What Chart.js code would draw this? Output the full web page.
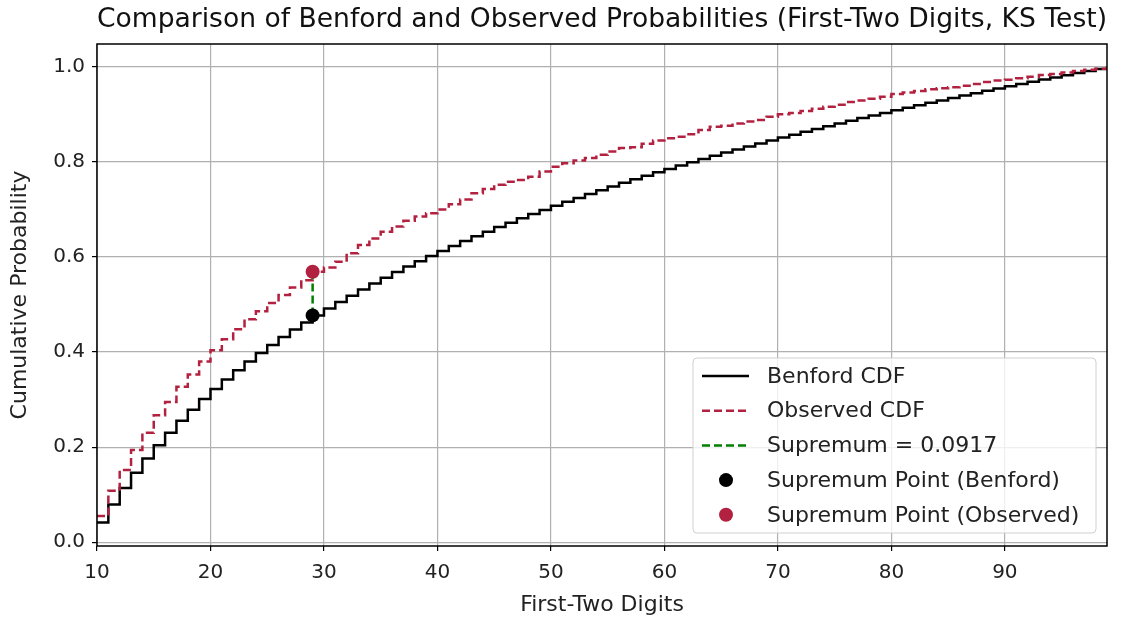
<!DOCTYPE html>
<html>
<head>
<meta charset="utf-8">
<script src="https://cdn.jsdelivr.net/npm/chart.js@4.4.1/dist/chart.umd.min.js"></script>
<style>
  html, body { margin: 0; padding: 0; background: #fff; }
  #wrap { width: 1121px; height: 621px; }
</style>
</head>
<body>
<div id="wrap"><canvas id="ksChart"></canvas></div>
<script>
// first-two digits 10..99
const digits = [10,11,12,13,14,15,16,17,18,19,20,21,22,23,24,25,26,27,28,29,
  30,31,32,33,34,35,36,37,38,39,40,41,42,43,44,45,46,47,48,49,
  50,51,52,53,54,55,56,57,58,59,60,61,62,63,64,65,66,67,68,69,
  70,71,72,73,74,75,76,77,78,79,80,81,82,83,84,85,86,87,88,89,
  90,91,92,93,94,95,96,97,98,99];

const benfordCdf = [0.0414,0.0792,0.1139,0.1461,0.1761,0.2041,0.2304,0.2553,0.2788,0.3010,
  0.3222,0.3424,0.3617,0.3802,0.3979,0.4150,0.4314,0.4472,0.4624,0.4771,
  0.4914,0.5051,0.5185,0.5315,0.5441,0.5563,0.5682,0.5798,0.5911,0.6021,
  0.6128,0.6232,0.6335,0.6435,0.6532,0.6628,0.6721,0.6812,0.6902,0.6990,
  0.7076,0.7160,0.7243,0.7324,0.7404,0.7482,0.7559,0.7634,0.7709,0.7782,
  0.7853,0.7924,0.7993,0.8062,0.8129,0.8195,0.8261,0.8325,0.8388,0.8451,
  0.8513,0.8573,0.8633,0.8692,0.8751,0.8808,0.8865,0.8921,0.8976,0.9031,
  0.9085,0.9138,0.9191,0.9243,0.9294,0.9345,0.9395,0.9445,0.9494,0.9542,
  0.9590,0.9638,0.9685,0.9731,0.9777,0.9823,0.9868,0.9912,0.9956,1.0000];

const observedCdf = [0.055,0.108,0.152,0.194,0.230,0.267,0.295,0.327,0.353,0.380,
  0.404,0.427,0.448,0.469,0.486,0.503,0.520,0.536,0.551,0.5688,
  0.578,0.590,0.608,0.625,0.639,0.653,0.664,0.676,0.685,0.692,
  0.700,0.711,0.721,0.734,0.743,0.752,0.758,0.762,0.769,0.780,
  0.790,0.797,0.803,0.808,0.815,0.822,0.829,0.831,0.838,0.845,
  0.850,0.853,0.858,0.867,0.874,0.876,0.881,0.885,0.888,0.895,
  0.900,0.903,0.907,0.912,0.916,0.920,0.926,0.929,0.933,0.937,
  0.943,0.946,0.949,0.953,0.955,0.957,0.960,0.964,0.968,0.971,
  0.973,0.976,0.979,0.983,0.985,0.988,0.991,0.994,0.996,1.000];

const supDigit = 29;
const supBenford = 0.4771;
const supObserved = 0.5688;
const supValue = '0.0917';

const xTicks = [10,20,30,40,50,60,70,80,90];
const yTicks = [0.0,0.2,0.4,0.6,0.8,1.0];

const RED = '#b2213f';
const FONT = "'DejaVu Sans', sans-serif";

const toPts = (ys) => digits.map((d, i) => ({ x: d, y: ys[i] }));

// matplotlib style frame round the plot area
const framePlugin = {
  id: 'frame',
  afterDatasetsDraw(chart) {
    const { ctx, chartArea: a } = chart;
    ctx.save();
    ctx.strokeStyle = '#000';
    ctx.lineWidth = 1.5;
    ctx.strokeRect(a.left, a.top, a.right - a.left, a.bottom - a.top);
    ctx.restore();
  }
};

// legend in the lower right corner, inside the axes
const innerLegend = {
  id: 'innerLegend',
  afterDraw(chart) {
    const { ctx } = chart;
    const x0 = 693, y0 = 358, w = 403, h = 175, rowH = 34.7;
    ctx.save();
    ctx.beginPath();
    ctx.roundRect(x0, y0, w, h, 4);
    ctx.fillStyle = 'rgba(255,255,255,0.8)';
    ctx.fill();
    ctx.strokeStyle = '#d0d0d0';
    ctx.lineWidth = 1;
    ctx.stroke();
    ctx.font = '22px ' + FONT;
    ctx.textBaseline = 'middle';
    chart.data.datasets.forEach((ds, i) => {
      const cy = y0 + 18 + i * rowH;
      if (ds.showLine === false) {
        ctx.beginPath();
        ctx.arc(726, cy, 7, 0, Math.PI * 2);
        ctx.fillStyle = ds.backgroundColor;
        ctx.fill();
      } else {
        ctx.beginPath();
        ctx.setLineDash(ds.borderDash || []);
        ctx.strokeStyle = ds.borderColor;
        ctx.lineWidth = ds.borderWidth;
        ctx.moveTo(702, cy);
        ctx.lineTo(749, cy);
        ctx.stroke();
        ctx.setLineDash([]);
      }
      ctx.fillStyle = '#222';
      ctx.fillText(ds.label, 767, cy + 1);
    });
    ctx.restore();
  }
};

new Chart(document.getElementById('ksChart'), {
  type: 'line',
  data: {
    datasets: [
      { label: 'Benford CDF', data: toPts(benfordCdf), stepped: true,
        borderColor: '#000', borderWidth: 2.5, pointRadius: 0, order: 5 },
      { label: 'Observed CDF', data: toPts(observedCdf), stepped: true,
        borderColor: RED, borderWidth: 2.5, borderDash: [8, 4], pointRadius: 0, order: 4 },
      { label: 'Supremum = ' + supValue,
        data: [{ x: supDigit, y: supBenford }, { x: supDigit, y: supObserved }],
        borderColor: '#008000', borderWidth: 2.5, borderDash: [8, 4], pointRadius: 0, order: 3 },
      { label: 'Supremum Point (Benford)', data: [{ x: supDigit, y: supBenford }],
        showLine: false, pointRadius: 7, pointBorderWidth: 0,
        backgroundColor: '#000', borderColor: '#000', order: 2 },
      { label: 'Supremum Point (Observed)', data: [{ x: supDigit, y: supObserved }],
        showLine: false, pointRadius: 7, pointBorderWidth: 0,
        backgroundColor: RED, borderColor: RED, order: 1 }
    ]
  },
  options: {
    responsive: true,
    maintainAspectRatio: false,
    animation: false,
    layout: { padding: { left: 0, right: 14, top: 0, bottom: 0 } },
    plugins: {
      legend: { display: false },
      tooltip: { enabled: false },
      title: {
        display: true,
        fullSize: false,
        text: 'Comparison of Benford and Observed Probabilities (First-Two Digits, KS Test)',
        color: '#111',
        font: { family: FONT, size: 27, weight: 'normal' },
        padding: { top: 4, bottom: 7.6 }
      }
    },
    scales: {
      x: {
        type: 'linear',
        min: 10,
        max: 99,
        afterFit: (s) => { s.height = 75; },
        afterBuildTicks: (s) => { s.ticks = xTicks.map(v => ({ value: v })); },
        grid: { color: '#b0b0b0', lineWidth: 1.2, tickColor: '#000', tickLength: 5 },
        border: { display: false },
        ticks: { color: '#222', padding: 10, font: { family: FONT, size: 20 } },
        title: { display: true, text: 'First-Two Digits', color: '#222',
          font: { family: FONT, size: 22 }, padding: { top: 0, bottom: 2.8 } }
      },
      y: {
        type: 'linear',
        min: -0.008,
        max: 1.048,
        afterFit: (s) => { s.width = 97; },
        afterBuildTicks: (s) => { s.ticks = yTicks.map(v => ({ value: v })); },
        grid: { color: '#b0b0b0', lineWidth: 1.2, tickColor: '#000', tickLength: 5 },
        border: { display: false },
        ticks: { color: '#222', padding: 7, font: { family: FONT, size: 20 },
          callback: (v) => v.toFixed(1) },
        title: { display: true, text: 'Cumulative Probability', color: '#222',
          font: { family: FONT, size: 22 }, padding: { top: 7.5, bottom: 0 } }
      }
    }
  },
  plugins: [framePlugin, innerLegend]
});
</script>
</body>
</html>
